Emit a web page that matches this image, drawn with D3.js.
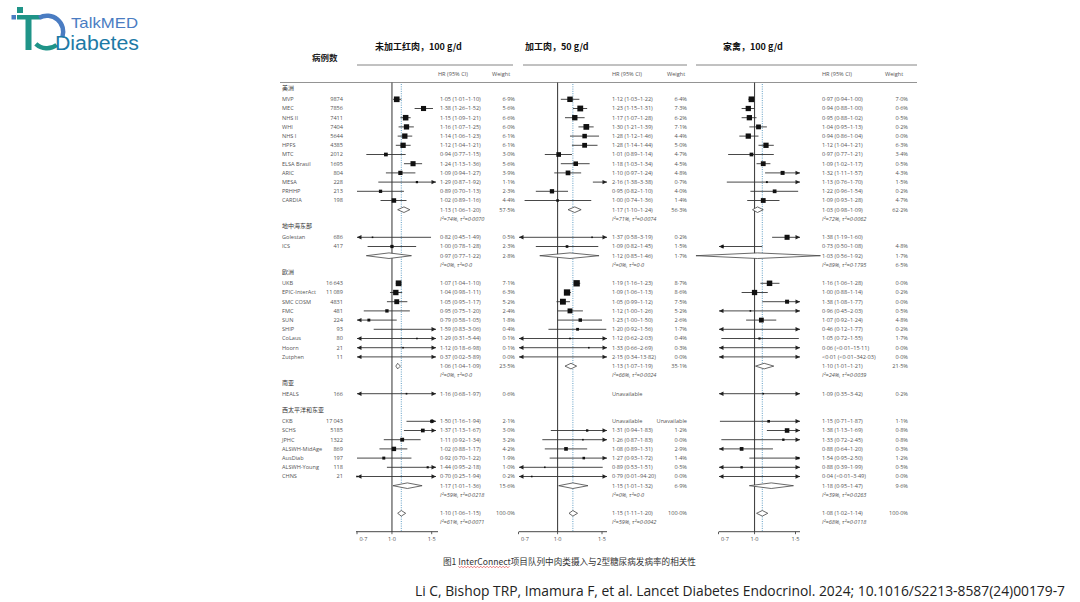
<!DOCTYPE html>
<html>
<head>
<meta charset="utf-8">
<script src="https://cdn.jsdelivr.net/npm/d3@7"></script>
<style>
  body { margin: 0; background: #fff; }
  svg { display: block; }
</style>
</head>
<body>
<svg id="chart" width="1080" height="602"></svg>
<script>
// Forest plot: meat intake and type 2 diabetes (InterConnect)

const regions = ["美洲", "地中海东部", "欧洲", "南亚", "西太平洋和东亚"];
const regionSize = [12, 2, 9, 1, 7];
const studies = ["MVP", "MEC", "NHS II", "WHI", "NHS I", "HPFS", "MTC", "ELSA Brasil", "ARIC", "MESA", "PRHHP", "CARDIA",
  "Golestan", "ICS",
  "UKB", "EPIC-InterAct", "SMC COSM", "FMC", "SUN", "SHIP", "CoLaus", "Hoorn", "Zutphen",
  "HEALS",
  "CKB", "SCHS", "JPHC", "ALSWH-MidAge", "AusDiab", "ALSWH-Young", "CHNS"];
const cases = [9874, 7856, 7411, 7404, 5644, 4385, 2012, 1695, 804, 228, 213, 198,
  686, 417,
  16643, 11089, 4831, 481, 224, 93, 80, 21, 11,
  166,
  17043, 5185, 1322, 869, 197, 118, 21];
const panelTitles = ["未加工红肉，100 g/d", "加工肉，50 g/d", "家禽，100 g/d"];
const tickValues = [0.7, 1.0, 1.5];

// [HR, lower, upper, weight %]
const redMeat = [
  [1.05, 1.01, 1.10, 6.9], [1.38, 1.26, 1.52, 5.6], [1.15, 1.09, 1.21, 6.6], [1.16, 1.07, 1.25, 6.0],
  [1.14, 1.06, 1.23, 6.1], [1.12, 1.04, 1.21, 6.1], [0.94, 0.77, 1.15, 3.0], [1.24, 1.13, 1.36, 5.6],
  [1.09, 0.94, 1.27, 3.9], [1.29, 0.87, 1.92, 1.1], [0.89, 0.70, 1.13, 2.3], [1.02, 0.89, 1.16, 4.4],
  [0.82, 0.45, 1.49, 0.5], [1.00, 0.78, 1.28, 2.3],
  [1.07, 1.04, 1.10, 7.1], [1.04, 0.98, 1.11, 6.3], [1.05, 0.95, 1.17, 5.2], [0.95, 0.75, 1.20, 2.4],
  [0.79, 0.58, 1.05, 1.8], [1.59, 0.83, 3.06, 0.4], [1.29, 0.31, 5.44, 0.1], [1.12, 0.18, 6.98, 0.1],
  [0.37, 0.02, 5.89, 0.0],
  [1.16, 0.68, 1.97, 0.6],
  [1.50, 1.16, 1.94, 2.1], [1.37, 1.13, 1.67, 3.0], [1.11, 0.92, 1.34, 3.2], [1.02, 0.88, 1.17, 4.2],
  [0.92, 0.70, 1.22, 1.9], [1.44, 0.95, 2.18, 1.0], [0.70, 0.25, 1.94, 0.2]];
// [HR, lower, upper, weight %, I², τ²]
const redMeatPooled = [[1.13, 1.06, 1.20, 57.5, "74%", "0·0070"], [0.97, 0.77, 1.22, 2.8, "0%", "0·0"],
  [1.06, 1.04, 1.09, 23.5, "0%", "0·0"], null, [1.17, 1.01, 1.36, 15.6, "59%", "0·0218"]];
const redMeatOverall = [1.10, 1.06, 1.15, 100.0, "61%", "0·0071"];

const processedMeat = [
  [1.12, 1.03, 1.22, 6.4], [1.23, 1.15, 1.31, 7.3], [1.17, 1.07, 1.28, 6.2], [1.30, 1.21, 1.39, 7.1],
  [1.28, 1.12, 1.46, 4.4], [1.28, 1.14, 1.44, 5.0], [1.01, 0.89, 1.14, 4.7], [1.18, 1.03, 1.34, 4.5],
  [1.10, 0.97, 1.24, 4.8], [2.16, 1.38, 3.38, 0.7], [0.95, 0.82, 1.10, 4.0], [1.00, 0.74, 1.36, 1.4],
  [1.37, 0.58, 3.19, 0.2], [1.09, 0.82, 1.45, 1.5],
  [1.19, 1.16, 1.23, 8.7], [1.09, 1.06, 1.13, 8.6], [1.05, 0.99, 1.12, 7.5], [1.12, 1.00, 1.26, 5.2],
  [1.23, 1.00, 1.50, 2.6], [1.20, 0.92, 1.56, 1.7], [1.12, 0.62, 2.03, 0.4], [1.33, 0.66, 2.69, 0.3],
  [2.15, 0.34, 13.82, 0.0],
  [null, null, null, null],
  [null, null, null, "Unavailable"], [1.31, 0.94, 1.83, 1.2], [1.26, 0.87, 1.83, 0.0], [1.08, 0.89, 1.31, 2.9],
  [1.27, 0.93, 1.72, 1.4], [0.89, 0.53, 1.51, 0.5], [0.79, 0.01, 94.20, 0.0]];
const processedMeatPooled = [[1.17, 1.10, 1.24, 56.3, "71%", "0·0074"], [1.12, 0.85, 1.46, 1.7, "0%", "0·0"],
  [1.13, 1.07, 1.19, 35.1, "66%", "0·0024"], null, [1.15, 1.01, 1.32, 6.9, "0%", "0·0"]];
const processedMeatOverall = [1.15, 1.11, 1.20, 100.0, "59%", "0·0042"];

const poultry = [
  [0.97, 0.94, 1.00, 7.0], [0.94, 0.88, 1.00, 0.6], [0.95, 0.88, 1.02, 0.5], [1.04, 0.95, 1.13, 0.2],
  [0.94, 0.86, 1.04, 0.0], [1.12, 1.04, 1.21, 6.3], [0.97, 0.77, 1.21, 3.4], [1.09, 1.02, 1.17, 0.5],
  [1.32, 1.11, 1.57, 4.3], [1.13, 0.76, 1.70, 1.5], [1.22, 0.96, 1.54, 0.2], [1.09, 0.93, 1.28, 4.7],
  [1.38, 1.19, 1.60, null], [0.73, 0.50, 1.08, 4.8],
  [1.16, 1.06, 1.28, 0.0], [1.00, 0.88, 1.14, 0.2], [1.38, 1.08, 1.77, 0.0], [0.96, 0.45, 2.03, 0.5],
  [1.07, 0.92, 1.24, 4.8], [0.46, 0.12, 1.77, 0.2], [1.05, 0.72, 1.55, 1.7], [0.06, 0.005, 15.11, 0.0],
  [0.005, 0.005, 342.03, 0.0],
  [1.09, 0.35, 3.42, 0.2],
  [1.15, 0.71, 1.87, 1.1], [1.38, 1.13, 1.69, 0.8], [1.33, 0.72, 2.45, 0.8], [0.88, 0.64, 1.20, 0.3],
  [1.54, 0.95, 2.50, 1.2], [0.88, 0.39, 1.99, 0.5], [0.04, 0.005, 3.49, 0.0]];
// study weight behind each box, as drawn
const poultryBox = [7, 6, 6, 5, 6, 6, 3, 5, 3.5, 0.8, 3, 5,
  5.5, 1,
  6.5, 6, 3.5, 0.4, 5, 0.3, 1, 0.1, 0.1,
  0.5,
  1.5, 4.5, 1.2, 3, 1.2, 1.2, 0.1];
const poultryPooled = [[1.03, 0.98, 1.09, 62.2, "72%", "0·0062"], [1.03, 0.56, 1.92, 1.7, "89%", "0·1795", 6.5],
  [1.10, 1.01, 1.21, 21.5, "24%", "0·0039"], null, [1.18, 0.95, 1.47, 9.6, "39%", "0·0263"]];
const poultryOverall = [1.08, 1.02, 1.14, 100.0, "68%", "0·0118"];

const svg = d3.select("#chart");
const smallFont = "'Open Sans', 'Liberation Sans', sans-serif";
const cjkFont = "'Noto Sans CJK SC', sans-serif";
const txtColor = "#555";

const y = d3.scaleLinear().domain([0, 46]).range([99.3, 99.3 + 46 * 9.2]);
const axisY = 531.7;

const num = v => v < 0.01 ? "<0·01" : d3.format(".2f")(v).replace(".", "·");
const tickNum = v => d3.format(".1f")(v).replace(".", "·");
const pct = w => d3.format(".1f")(w).replace(".", "·") + "%";
const ciText = d => num(d[0]) + " (" + num(d[1]) + "–" + num(d[2]) + ")";
const caseText = n => n >= 10000 ? d3.format(",")(n).replace(",", "\u2009") : String(n);

// lay out the rows
const rows = [];
let r = -1, s = 0;
regions.forEach((name, g) => {
  rows.push({ type: "region", name, i: r++ });
  for (let k = 0; k < regionSize[g]; k++) rows.push({ type: "study", k: s++, i: r++ });
  if (regionSize[g] > 1) {
    rows.push({ type: "pooled", g, i: r++ });
    rows.push({ type: "het", g, i: r++ });
  } else r++;
});
r++;
rows.push({ type: "overall", i: r++ });
rows.push({ type: "overallHet", i: r++ });

function smallText(g, x, yy, str, anchor) {
  return g.append("text").attr("x", x).attr("y", yy).attr("dy", "0.35em")
    .attr("text-anchor", anchor || "start")
    .attr("font-family", smallFont).attr("font-size", 5.6).attr("fill", txtColor).text(str);
}

// left columns
const left = svg.append("g");
left.append("text").attr("x", 312).attr("y", 58).attr("dy", "0.35em")
  .attr("font-family", cjkFont).attr("font-weight", "bold").attr("font-size", 8.5).attr("fill", "#222").text("病例数");
rows.forEach(row => {
  if (row.type === "region") {
    left.append("text").attr("x", 282).attr("y", y(row.i) - 2).attr("dy", "0.35em")
      .attr("font-family", cjkFont).attr("font-size", 6).attr("fill", "#333").text(row.name);
  } else if (row.type === "study") {
    smallText(left, 282, y(row.i), studies[row.k]);
    smallText(left, 343, y(row.i), caseText(cases[row.k]), "end");
  }
});

// long header rule
svg.append("line").attr("x1", 280).attr("x2", 917).attr("y1", 82.5).attr("y2", 82.5)
  .attr("stroke", "#888").attr("stroke-width", 0.9);

const panels = [
  { title: panelTitles[0], data: redMeat, pooled: redMeatPooled, overall: redMeatOverall,
    range: [357, 431.7], axis: [356, 438], clip: [357, 436], hrX: 440, wtX: 515,
    rule: [357, 513], titleX: 375, hrHead: 438, wtHead: 492 },
  { title: panelTitles[1], data: processedMeat, pooled: processedMeatPooled, overall: processedMeatOverall,
    range: [518.5, 602], axis: [519, 607], clip: [519, 607], hrX: 612, wtX: 687,
    rule: [523, 687], titleX: 525, hrHead: 612, wtHead: 667 },
  { title: panelTitles[2], data: poultry, pooled: poultryPooled, overall: poultryOverall, box: poultryBox,
    range: [718.5, 795.5], axis: [719, 800], clip: [719, 800], hrX: 822, wtX: 908,
    rule: [696, 917], titleX: 723, hrHead: 822, wtHead: 885 }
];

function diamond(g, x, d, yy) {
  const h = 2.8;
  g.append("path")
    .attr("d", `M${x(d[1])},${yy}L${x(d[0])},${yy - h}L${x(d[2])},${yy}L${x(d[0])},${yy + h}Z`)
    .attr("fill", "#fff").attr("stroke", "#444").attr("stroke-width", 0.8);
}

function arrow(g, tip, yy, dir) {
  const len = 4.5, hw = 2.2;
  g.append("path")
    .attr("d", `M${tip},${yy}L${tip - dir * len},${yy - hw}L${tip - dir * len},${yy + hw}Z`)
    .attr("fill", "#222");
}

panels.forEach(p => {
  const g = svg.append("g");
  const x = d3.scaleLog().domain([0.7, 1.5]).range(p.range);
  const dMin = x.invert(p.clip[0]), dMax = x.invert(p.clip[1]);

  // headings
  g.append("text").attr("x", p.titleX).attr("y", 47).attr("dy", "0.35em")
    .attr("font-family", cjkFont).attr("font-weight", "bold").attr("font-size", 9).attr("fill", "#111").text(p.title);
  g.append("line").attr("x1", p.rule[0]).attr("x2", p.rule[1]).attr("y1", 65).attr("y2", 65)
    .attr("stroke", "#777").attr("stroke-width", 0.9);
  smallText(g, p.hrHead, 74, "HR (95% CI)");
  smallText(g, p.wtHead, 74, "Weight");

  // reference lines
  g.append("line").attr("x1", x(1)).attr("x2", x(1)).attr("y1", 82.5).attr("y2", axisY)
    .attr("stroke", "#444").attr("stroke-width", 1.1);
  g.append("line").attr("x1", x(p.overall[0])).attr("x2", x(p.overall[0])).attr("y1", 84).attr("y2", axisY)
    .attr("stroke", "#4f93bd").attr("stroke-width", 0.9).attr("stroke-dasharray", "1,1.3");

  rows.forEach(row => {
    const yy = y(row.i);
    if (row.type === "study") {
      const d = p.data[row.k];
      if (d[0] === null) {
        smallText(g, p.hrX, yy, "Unavailable");
        if (d[3]) smallText(g, p.wtX, yy, d[3], "end");
        return;
      }
      const lo = Math.max(d[1], dMin), hi = Math.min(d[2], dMax);
      g.append("line").attr("x1", x(lo)).attr("x2", x(hi)).attr("y1", yy).attr("y2", yy)
        .attr("stroke", "#333").attr("stroke-width", 0.9);
      if (d[1] < dMin) arrow(g, p.clip[0], yy, -1);
      if (d[2] > dMax) arrow(g, p.clip[1], yy, 1);
      if (d[0] >= dMin && d[0] <= dMax) {
        const w = p.box ? p.box[row.k] : d[3];
        const size = Math.max(1.6, 2.15 * Math.sqrt(w));
        g.append("rect").attr("x", x(d[0]) - size / 2).attr("y", yy - size / 2)
          .attr("width", size).attr("height", size).attr("fill", "#111");
      }
      smallText(g, p.hrX, yy, ciText(d));
      if (d[3] !== null) smallText(g, p.wtX, yy, pct(d[3]), "end");
    } else if (row.type === "pooled") {
      const d = p.pooled[row.g];
      diamond(g, x, d, yy);
      smallText(g, p.hrX, yy, ciText(d));
      smallText(g, p.wtX, yy, pct(d[3]), "end");
    } else if (row.type === "het") {
      const d = p.pooled[row.g];
      smallText(g, p.hrX, yy, "I²=" + d[4] + ", τ²=" + d[5]).attr("font-style", "italic");
      if (d[6] !== undefined) smallText(g, p.wtX, yy, pct(d[6]), "end");
    } else if (row.type === "overall") {
      diamond(g, x, p.overall, yy);
      smallText(g, p.hrX, yy, ciText(p.overall));
      smallText(g, p.wtX, yy, pct(p.overall[3]), "end");
    } else if (row.type === "overallHet") {
      smallText(g, p.hrX, yy, "I²=" + p.overall[4] + ", τ²=" + p.overall[5]).attr("font-style", "italic");
    }
  });

  // x axis
  g.append("line").attr("x1", p.axis[0]).attr("x2", p.axis[1]).attr("y1", axisY).attr("y2", axisY)
    .attr("stroke", "#333").attr("stroke-width", 0.9);
  tickValues.forEach((t, j) => {
    g.append("line").attr("x1", x(t)).attr("x2", x(t)).attr("y1", axisY).attr("y2", axisY + 2.5)
      .attr("stroke", "#333").attr("stroke-width", 0.8);
    smallText(g, j === 0 ? x(t) + 2.5 : x(t), axisY + 7.5, tickNum(t), j === 0 ? "start" : "middle");
  });
});

// caption
const cap = svg.append("text").attr("x", 443).attr("y", 562).attr("dy", "0.35em")
  .attr("font-family", cjkFont).attr("font-size", 8.6).attr("fill", "#333")
  .text("图1 InterConnect项目队列中肉类摄入与2型糖尿病发病率的相关性");
const capNode = cap.node();
const u0 = capNode.getStartPositionOfChar(3).x, u1 = capNode.getEndPositionOfChar(14).x;
const zig = d3.range(u0, u1, 1.6).map((xx, j) => [xx, 567 + (j % 2 ? 0.8 : -0.8)]);
svg.append("path").attr("d", d3.line()(zig)).attr("fill", "none").attr("stroke", "#e03030").attr("stroke-width", 0.6);

svg.append("text").attr("x", 415).attr("y", 591).attr("dy", "0.35em")
  .attr("font-family", "'Open Sans', sans-serif").attr("font-size", 14).attr("fill", "#222")
  .attr("textLength", 650).attr("lengthAdjust", "spacingAndGlyphs")
  .text("Li C, Bishop TRP, Imamura F, et al. Lancet Diabetes Endocrinol. 2024; 10.1016/S2213-8587(24)00179-7");

// logo
const logo = svg.append("g");
const teal = "#1f9488", blue = "#4a7cc2";
logo.append("rect").attr("x", 17).attr("y", 7).attr("width", 6).attr("height", 6).attr("fill", teal);
logo.append("rect").attr("x", 11.5).attr("y", 15).attr("width", 4.5).attr("height", 4.5).attr("fill", blue);
logo.append("rect").attr("x", 17).attr("y", 15).attr("width", 23).attr("height", 4.5).attr("fill", teal);
logo.append("rect").attr("x", 25.5).attr("y", 15).attr("width", 6).attr("height", 35).attr("fill", teal);
const arc = d3.arc().innerRadius(14).outerRadius(18.5);
logo.append("path").attr("transform", "translate(47,32)")
  .attr("d", arc({ startAngle: -0.5, endAngle: 1.9 })).attr("fill", blue);
logo.append("path").attr("transform", "translate(47,32)")
  .attr("d", arc({ startAngle: 2.5, endAngle: 3.9 })).attr("fill", teal);
logo.append("text").attr("x", 71).attr("y", 28).attr("font-family", "'Liberation Sans', Arial, sans-serif")
  .attr("font-size", 15).attr("fill", blue).attr("textLength", 67).attr("lengthAdjust", "spacingAndGlyphs")
  .text("TalkMED");
logo.append("text").attr("x", 55).attr("y", 50).attr("font-family", "'Liberation Sans', Arial, sans-serif")
  .attr("font-size", 20).attr("fill", "#1d7aa6").attr("textLength", 84).attr("lengthAdjust", "spacingAndGlyphs")
  .text("Diabetes");
</script>
</body>
</html>
